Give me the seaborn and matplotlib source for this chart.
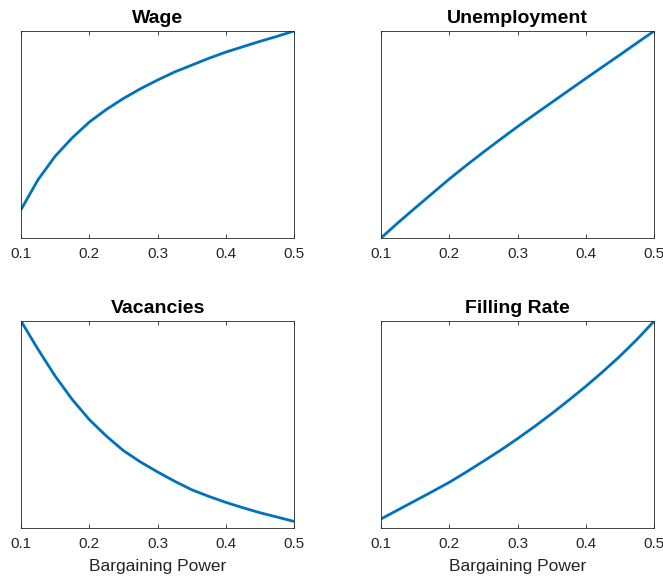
import numpy as np
import pandas as pd
import matplotlib
matplotlib.use("Agg")
import matplotlib.pyplot as plt
import seaborn as sns

# bargaining power grid and normalised responses
bargaining = [0.1, 0.125, 0.15, 0.175, 0.2, 0.225, 0.25, 0.275, 0.3,
              0.325, 0.35, 0.375, 0.4, 0.425, 0.45, 0.475, 0.5]
wage = [0.137, 0.282, 0.395, 0.484, 0.56, 0.621, 0.674, 0.721, 0.763,
        0.802, 0.835, 0.868, 0.898, 0.924, 0.95, 0.974, 1.0]
unemployment = [0.0, 0.074, 0.145, 0.215, 0.285, 0.351, 0.415, 0.477, 0.538,
                0.597, 0.655, 0.713, 0.771, 0.828, 0.885, 0.943, 1.0]
vacancies = [1.0, 0.863, 0.734, 0.621, 0.524, 0.444, 0.374, 0.319, 0.271,
             0.226, 0.185, 0.153, 0.124, 0.098, 0.074, 0.053, 0.032]
filling_rate = [0.044, 0.088, 0.132, 0.176, 0.221, 0.271, 0.323, 0.376, 0.432,
                0.491, 0.553, 0.618, 0.685, 0.756, 0.831, 0.912, 1.0]

titles = ["Wage", "Unemployment", "Vacancies", "Filling Rate"]
series = [wage, unemployment, vacancies, filling_rate]
xticks = [0.1, 0.2, 0.3, 0.4, 0.5]

sns.set_theme(style="white")
plt.rcParams['font.family'] = ['Liberation Sans', 'DejaVu Sans']

fig = plt.figure(figsize=(6.63, 5.79), dpi=100)

# axes positions [left, bottom, width, height] in figure fraction
positions = [
    [0.0317, 0.589, 0.412, 0.3575],
    [0.5747, 0.589, 0.412, 0.3575],
    [0.0317, 0.088, 0.412, 0.3575],
    [0.5747, 0.088, 0.412, 0.3575],
]

for i in range(4):
    ax = fig.add_axes(positions[i])
    df = pd.DataFrame({'x': bargaining, 'y': series[i]})
    sns.lineplot(data=df, x='x', y='y', ax=ax, color='#0072BD', linewidth=2.0)
    ax.set_xlim(0.1, 0.5)
    ax.set_ylim(0, 1)
    ax.set_xticks(xticks)
    ax.set_xticklabels([f"{t:.1f}" for t in xticks])
    ax.set_yticks([])
    ax.set_ylabel('')
    ax.set_title(titles[i], fontsize=14, fontweight='bold', pad=5.5, color='black')
    ax.tick_params(axis='x', direction='in', length=3, width=0.6, top=True, bottom=True,
                   labelsize=11, colors='#262626', pad=6.5)
    for sp in ax.spines.values():
        sp.set_color('#262626')
        sp.set_linewidth(0.6)
    if i >= 2:
        ax.set_xlabel('Bargaining Power', fontsize=12.5, color='#262626', labelpad=6)
    else:
        ax.set_xlabel('')

fig.savefig('out.png', dpi=100)
